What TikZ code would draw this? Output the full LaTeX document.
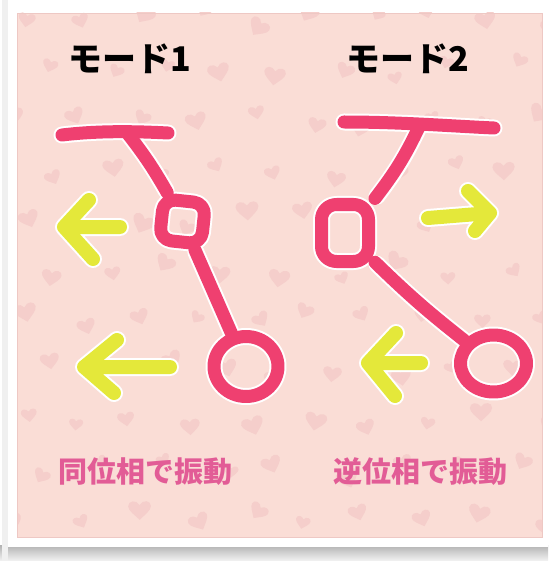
\documentclass[tikz,border=0pt]{standalone}
\usepackage{fontspec}
\usetikzlibrary{shapes.geometric}
\newfontfamily\jp{Noto Sans CJK JP}

\definecolor{paperpink}{RGB}{250,221,214}
\definecolor{heartpink}{RGB}{245,206,203}
\definecolor{edgepink}{RGB}{238,200,196}
\definecolor{rodpink}{RGB}{239,64,112}
\definecolor{arrowyellow}{RGB}{228,232,58}
\definecolor{captionpink}{RGB}{226,92,150}
\definecolor{shadowgray}{RGB}{178,178,178}

\tikzset{
  stroke/.style={line cap=round, line join=round},
  title/.style={font=\jp\bfseries\fontsize{34}{40}\selectfont, text=black},
  caption/.style={font=\jp\bfseries\fontsize{29}{34}\selectfont, text=captionpink},
  heart/.pic={\fill[heartpink] (0,8) .. controls (-4,4) and (-10,0) .. (-10,-4)
      .. controls (-10,-9) and (-3,-10) .. (0,-5)
      .. controls (3,-10) and (10,-9) .. (10,-4)
      .. controls (10,0) and (4,4) .. (0,8) -- cycle;}
}

% both pendulums, drawn once as a white halo and once in pink
\newcommand\drawpendulums[2]{%
  \begin{scope}[draw=#1, line width=#2, stroke]
    % mode 1
    \draw (62,135) .. controls (95,131) and (130,131) .. (168,133);
    \node[draw, rectangle, rounded corners=12pt, minimum width=42pt, minimum height=41pt,
          inner sep=0pt, rotate=-6] (a1) at (182.5,221.5) {};
    \node[draw, ellipse, minimum width=64pt, minimum height=60pt, inner sep=0pt] (a2) at (246,366.5) {};
    \draw (p1) to[bend left=4] (a1);
    \draw (a1) -- (a2);
    % mode 2
    \draw (344,122) .. controls (400,122) and (450,126) .. (494,128);
    \node[draw, rectangle, rounded corners=15pt, minimum width=47pt, minimum height=57pt,
          inner sep=0pt] (b1) at (345,233) {};
    \node[draw, ellipse, minimum width=66pt, minimum height=57pt, inner sep=0pt] (b2) at (493.5,363.5) {};
    \draw (p2) to[bend left=6] (b1);
    \draw (b1) to[bend right=3] (b2);
  \end{scope}}

% the four yellow arrows
\newcommand\drawarrows[2]{%
  \begin{scope}[draw=#1, line width=#2, stroke]
    \draw (u1tail) -- (u1tip) (u1up) -- (u1tip) -- (u1lo);
    \draw (l1tail) -- (l1tip) (l1up) -- (l1tip) -- (l1lo);
    \draw (u2tail) -- (u2tip) (u2up) -- (u2tip) -- (u2lo);
    \draw (l2tail) -- (l2tip) (l2up) -- (l2tip) -- (l2lo);
  \end{scope}}

\begin{document}
\begin{tikzpicture}[x=1pt, y=-1pt]
\useasboundingbox (0,0) rectangle (548,561);

% photo frame with its shadow
\fill[white] (0,0) rectangle (548,561);
\shade[top color=shadowgray, bottom color=white!85!shadowgray] (0,545) rectangle (548,561);
\fill[white!80!shadowgray] (2,0) rectangle (8,561);
\fill[white] (8,0) rectangle (548,547);

% pink paper with hearts
\fill[paperpink] (17,13) rectangle (542,537);
\begin{scope}
  \clip (17,13) rectangle (542,537);
  \pgfmathsetseed{11}
  \foreach \i in {0,...,9}{
    \foreach \j in {0,...,10}{
      \pgfmathsetmacro\hx{20+\i*58+mod(\j,2)*29+rand*10}
      \pgfmathsetmacro\hy{20+\j*50+rand*10}
      \pgfmathsetmacro\hs{0.7+0.45*rnd}
      \pgfmathsetmacro\hr{rand*35}
      \pic[scale=\hs, rotate=\hr] at (\hx,\hy) {heart};
    }
  }
\end{scope}
\draw[edgepink, line width=0.8pt] (17,13) rectangle (542,537);

% titles
\node[title] (t1) at (130,59) {モード1};
\node[title] (t2) at (408,59) {モード2};

% pivot points on the bars
\coordinate (p1) at (128,134);
\coordinate (p2) at (419,127);

% arrow geometry
\coordinate (u1tip)  at (64,227);
\coordinate (u1tail) at (120,227);
\coordinate (u1up)   at (89,200);
\coordinate (u1lo)   at (93,259);
\coordinate (l1tip)  at (84,367);
\coordinate (l1tail) at (170,367);
\coordinate (l1up)   at (117,340);
\coordinate (l1lo)   at (114,393);
\coordinate (u2tail) at (428,218);
\coordinate (u2tip)  at (490,213);
\coordinate (u2up)   at (468,191);
\coordinate (u2lo)   at (475,231);
\coordinate (l2tip)  at (368,363);
\coordinate (l2tail) at (421,363);
\coordinate (l2up)   at (396,333);
\coordinate (l2lo)   at (395,396);

\drawpendulums{white}{17pt}
\drawarrows{white}{18pt}
\drawpendulums{rodpink}{13pt}
\drawarrows{arrowyellow}{14pt}

% captions
\node[caption] (c1) at (145,472) {同位相で振動};
\node[caption] (c2) at (420,472) {逆位相で振動};
\end{tikzpicture}
\end{document}
